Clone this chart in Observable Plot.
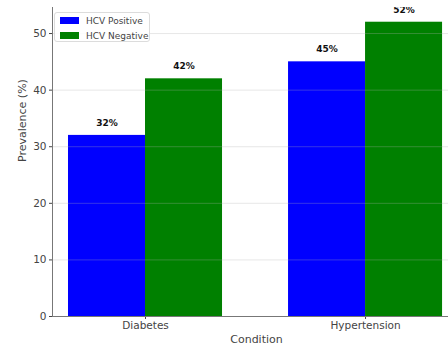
<!DOCTYPE html>
<html>
<head>
<meta charset="utf-8">
<script src="https://cdn.jsdelivr.net/npm/d3@7"></script>
<script src="https://cdn.jsdelivr.net/npm/@observablehq/plot@0.6"></script>
<style>
  html, body { margin: 0; padding: 0; background: white; }
  #wrap { position: relative; width: 448px; height: 345px; overflow: hidden; font-family: "DejaVu Sans", sans-serif; }
  #legend { position: absolute; left: 54px; top: 12px; width: 96px; height: 30px; box-sizing: border-box;
    border: 1px solid #dcdcdc; border-radius: 3px; background: rgba(255,255,255,0.85); font-size: 9px; color: #444; }
  .item { position: absolute; left: 5px; height: 10px; line-height: 10px; white-space: nowrap; }
  .sw { display: inline-block; width: 19px; height: 7px; vertical-align: middle; margin-right: 7px; position: relative; top: -1px; }
</style>
</head>
<body>
<div id="wrap"></div>
<script>
const conditions = ["Diabetes", "Hypertension"];
const series = ["HCV Positive", "HCV Negative"];
const positive = [32, 45];
const negative = [42, 52];
const yTicks = [0, 10, 20, 30, 40, 50];
const colors = ["#0000ff", "#008000"];
const barWidth = 0.35;

const rows = [];
conditions.forEach((c, i) => {
  rows.push({condition: c, index: i, series: series[0], offset: -barWidth, value: positive[i]});
  rows.push({condition: c, index: i, series: series[1], offset: 0, value: negative[i]});
});

const xMin = -0.4227;
const font = "DejaVu Sans, sans-serif";
const chart = Plot.plot({
  width: 448,
  height: 345,
  marginLeft: 52,
  marginRight: 0,
  marginTop: 7,
  marginBottom: 29,
  style: {fontFamily: font, background: "white", overflow: "hidden"},
  x: {type: "linear", domain: [xMin, 1.377]},
  y: {domain: [0, 54.6]},
  color: {domain: series, range: colors},
  marks: [
    Plot.rectY(rows, {
      x1: d => d.index + d.offset,
      x2: d => d.index + d.offset + barWidth,
      y1: 0,
      y2: "value",
      fill: "series"
    }),
    Plot.gridY(yTicks, {stroke: "#b0b0b0", strokeOpacity: 0.3}),
    Plot.text(rows, {
      x: d => d.index + d.offset + barWidth / 2,
      y: "value",
      text: d => `${d.value}%`,
      dy: -12.5,
      fontWeight: "bold",
      fontSize: 9,
      fill: "#111",
      clip: true
    }),
    Plot.axisY({ticks: yTicks, tickSize: 3, tickPadding: 3, fontSize: 10.5, color: "#444", label: null}),
    Plot.axisX({ticks: [0, 1], tickFormat: i => conditions[i], tickSize: 3, tickPadding: 2, fontSize: 10.5, color: "#444", label: null}),
    Plot.ruleX([xMin], {stroke: "#777"}),
    Plot.ruleY([0], {stroke: "#777"}),
    Plot.text(["Condition"], {frameAnchor: "bottom", dx: 6, dy: 23, lineAnchor: "middle", fontSize: 11, fill: "#444"}),
    Plot.text(["Prevalence (%)"], {frameAnchor: "left", rotate: -90, dx: -30, lineAnchor: "middle", fontSize: 11, fill: "#444"})
  ]
});

const wrap = document.getElementById("wrap");
wrap.appendChild(chart);
const legend = document.createElement("div");
legend.id = "legend";
series.forEach((s, i) => {
  const item = document.createElement("div");
  item.className = "item";
  item.style.top = (3 + i * 15) + "px";
  item.innerHTML = `<span class="sw" style="background:${colors[i]}"></span>${s}`;
  legend.appendChild(item);
});
wrap.appendChild(legend);
</script>
</body>
</html>
